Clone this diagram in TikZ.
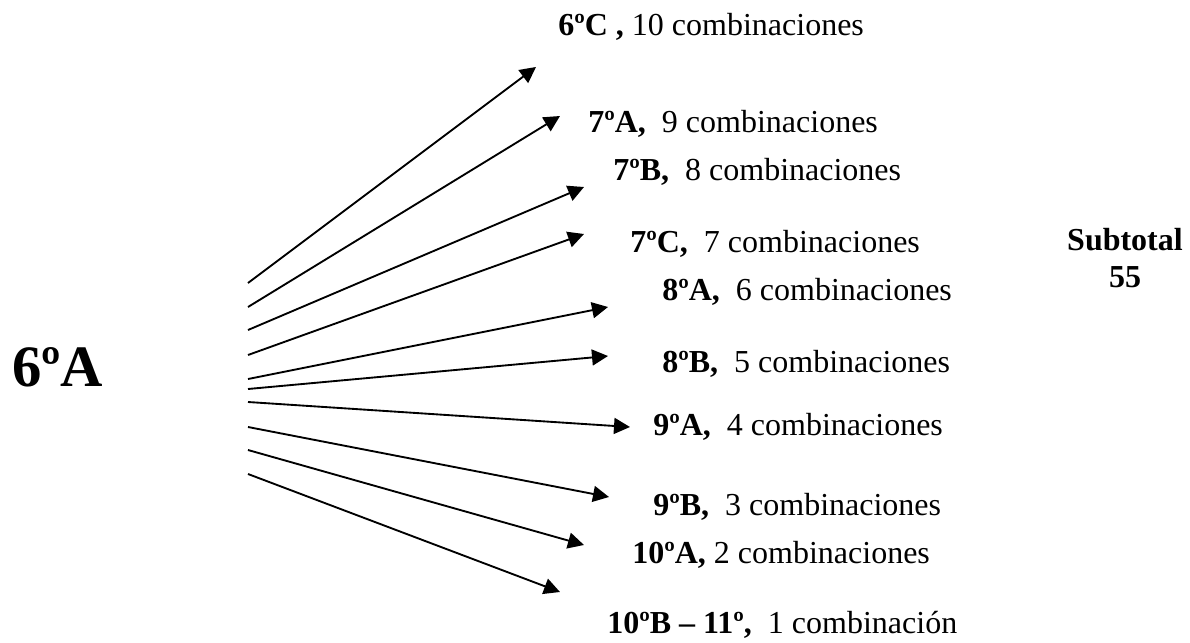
\documentclass[tikz,border=0pt]{standalone}
\usepackage{fontspec}
\setmainfont{Liberation Serif}
\usetikzlibrary{arrows.meta}

\begin{document}
\begin{tikzpicture}[x=0.75pt,y=-0.75pt,
    flecha/.style={line width=1.4pt,-{Triangle[length=12pt,width=12pt]}},
    grupo/.style={anchor=base west,inner sep=0pt,font=\fontsize{24}{27.6}\selectfont}]
    \useasboundingbox (0,0) rectangle (1190,643);

    \node (origen) [anchor=base west,inner sep=0pt,font=\fontsize{44}{50}\selectfont\bfseries] at (12,386) {6ºA};

    \node (g6C) [grupo] at (558,35) {\textbf{6ºC ,} 10 combinaciones};
    \node (g7A) [grupo] at (588,132) {\textbf{7ºA,}\ \ 9 combinaciones};
    \node (g7B) [grupo] at (613,180) {\textbf{7ºB,}\ \ 8 combinaciones};
    \node (g7C) [grupo] at (630,252) {\textbf{7ºC,}\ \ 7 combinaciones};
    \node (g8A) [grupo] at (662,300) {\textbf{8ºA,}\ \ 6 combinaciones};
    \node (g8B) [grupo] at (662,372) {\textbf{8ºB,}\ \ 5 combinaciones};
    \node (g9A) [grupo] at (653,435) {\textbf{9ºA,}\ \ 4 combinaciones};
    \node (g9B) [grupo] at (653,515) {\textbf{9ºB,}\ \ 3 combinaciones};
    \node (g10A) [grupo] at (632,563) {\textbf{10ºA,} 2 combinaciones};
    \node (g10B) [grupo] at (607,633) {\textbf{10ºB – 11º,}\ \ 1 combinación};

    % base anchor is on the last line (55)
    \node (subtotal) [anchor=base,align=center,inner sep=0pt,font=\fontsize{24}{27.75}\selectfont\bfseries] at (1125,287) {Subtotal\\55};

    \foreach \ys/\xe/\ye [count=\i] in {283/536/67, 307/560/116, 330/584/187, 355/584/234, 379/608/307,
                                        389/608/356, 402/630/427, 427/609/497, 450/584/545, 474/560/592} {
        \coordinate (s\i) at (248,\ys);
        \coordinate (e\i) at (\xe,\ye);
        \draw [flecha] (s\i) -- (e\i);
    }
\end{tikzpicture}
\end{document}
